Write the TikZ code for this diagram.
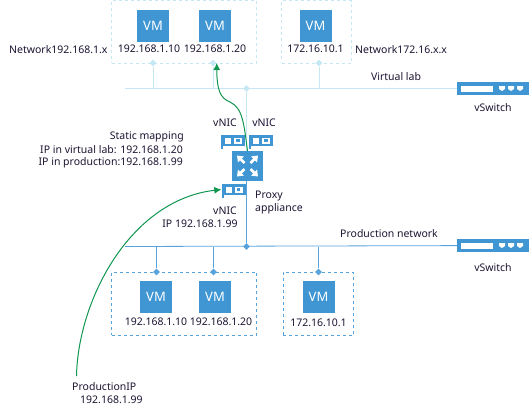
\documentclass[tikz,border=0pt]{standalone}
\usepackage{fontspec}
\setmainfont{Noto Sans}
\definecolor{vmblue}{RGB}{64,150,211}
\definecolor{netblue}{RGB}{88,163,220}
\definecolor{labblue}{RGB}{198,232,245}
\definecolor{mapgreen}{RGB}{16,150,80}
\definecolor{labeltext}{RGB}{30,20,50}
\usetikzlibrary{arrows.meta,positioning,shapes.geometric,calc}

\tikzset{
  vmbox/.style={fill=vmblue, minimum size=32pt, inner sep=0pt, text=white, font=\fontsize{13}{13}\selectfont\bfseries},
  iplabel/.style={font=\fontsize{10.5}{12}\selectfont, text=labeltext, inner sep=0pt},
  labgroup/.style={draw=labblue, dashed, fill=none, inner sep=0pt},
  prodgroup/.style={draw=netblue, dashed, fill=none, inner sep=0pt},
  labtap/.style={diamond, fill=labblue, minimum size=7pt, inner sep=0pt},
  prodtap/.style={diamond, fill=netblue, minimum size=7pt, inner sep=0pt},
  switchbox/.style={fill=vmblue, minimum width=72pt, minimum height=13pt, inner sep=0pt},
  nicbox/.style={fill=vmblue, minimum width=24pt, minimum height=11pt, inner sep=0pt},
  maparrow/.style={draw=mapgreen, line width=1pt, -{Latex[length=7pt,width=7pt]}}
}

% white parts of a vSwitch: port bar and three ports
\newcommand{\switchports}[1]{
  \fill[white] ($(#1)+(-32,-3)$) rectangle ($(#1)+(0,3)$);
  \foreach \px in {9,18,27} {
    \fill[white] ($(#1)+(\px-3,-2.5)$) -- ($(#1)+(\px+3,-2.5)$) -- ($(#1)+(\px+3,0.5)$) -- ($(#1)+(\px,2.5)$) -- ($(#1)+(\px-3,0.5)$) -- cycle;
  }
}
% white parts of a vNIC: two ports, and the bracket below the card
\newcommand{\nicports}[1]{
  \fill[vmblue] ($(#1)+(-12,5)$) rectangle ($(#1)+(-10,8)$);
  \fill[white] ($(#1)+(-8,-3)$) rectangle ($(#1)+(-2,3)$);
  \fill[white] ($(#1)+(1,-3)$) rectangle ($(#1)+(9,3)$);
  \fill[vmblue] ($(#1)+(3.4,-1.2)$) rectangle ($(#1)+(6.6,1.2)$);
}

\begin{document}
\begin{tikzpicture}[x=1pt,y=-1pt]
    \useasboundingbox (0,0) rectangle (529,413);

    % Virtual lab side: groups
    \node[labgroup, minimum width=145pt, minimum height=62.5pt] (labgrpa) at (184,31.75) {};
    \node[labgroup, minimum width=70pt, minimum height=62.5pt] (labgrpb) at (316.5,31.75) {};

    % Bus lines and switches
    \node[switchbox] (swlab) at (493,88.5) {};
    \node[switchbox] (swprod) at (493,245.5) {};
    \switchports{swlab}
    \switchports{swprod}
    \coordinate (labbus) at (125,88.5);
    \coordinate (prodbus) at (125,246.5);
    \draw[labblue, thick] (labbus) -- (swlab);
    \draw[netblue, thick] (prodbus) -- (swprod);

    % Virtual lab VMs
    \node[vmbox] (vmlaba) at (153,26) {VM};
    \node[vmbox] (vmlabb) at (215,26) {VM};
    \node[vmbox] (vmlabc) at (315.5,26) {VM};
    \node[iplabel] (iplaba) at (149,49) {192.168.1.10};
    \node[iplabel] (iplabb) at (215,49) {192.168.1.20};
    \node[iplabel] (iplabc) at (315.5,49) {172.16.10.1};

    % Virtual lab taps
    \node[labtap] (tapa) at (153,63) {};
    \node[labtap] (tapb) at (213,63) {};
    \node[labtap] (tapc) at (319,63) {};
    \node[labtap] (tapm) at (246.5,88.5) {};
    \draw[labblue, thick] (tapa) -- (tapa |- labbus);
    \draw[labblue, thick] (tapb) -- (tapb |- labbus);
    \draw[labblue, thick] (tapc) -- (tapc |- labbus);

    % Proxy appliance
    \node[fill=vmblue, minimum width=31pt, minimum height=30pt, inner sep=0pt] (proxy) at (247.5,166) {};
    \draw[labblue, thick] (tapm) -- (tapm |- proxy.north);
    \node[prodtap] (tapn) at (246.5,246.5) {};
    \draw[netblue, thick] (tapn |- proxy.south) -- (tapn);
    \foreach \sx/\sy in {-1/-1,1/-1,-1/1,1/1} {
      \draw[white, line width=2.6pt, -{Triangle[length=5.5pt,width=8pt]}] ($(proxy)+(\sx*3,\sy*3)$) -- ($(proxy)+(\sx*10.5,\sy*10.5)$);
    }

    % vNIC cards
    \node[nicbox] (nicl) at (233,140.5) {};
    \node[nicbox] (nicr) at (261,140.5) {};
    \node[nicbox] (nicp) at (233.5,189.5) {};
    \nicports{nicl}
    \nicports{nicr}
    \nicports{nicp}
    \node[iplabel] (niclt) at (225,123) {vNIC};
    \node[iplabel] (nicrt) at (264,123) {vNIC};
    \node[iplabel] (nicpt) at (225,211) {vNIC};
    \node[iplabel] (nicip) at (200,224) {IP 192.168.1.99};

    % Labels around the proxy
    \node[iplabel, anchor=east] (mapt) at (184,137) {Static mapping};
    \node[iplabel, anchor=east] (mapa) at (183,150) {IP in virtual lab: 192.168.1.20};
    \node[iplabel, anchor=east] (mapb) at (183,163) {IP in production:192.168.1.99};
    \node[iplabel, anchor=west] (proxya) at (255,196) {Proxy};
    \node[iplabel, anchor=west] (proxyb) at (255,209) {appliance};

    % Network names
    \node[iplabel, anchor=west] (neta) at (9,50) {Network192.168.1.x};
    \node[iplabel, anchor=west] (netb) at (355,50) {Network172.16.x.x};
    \node[iplabel] (labname) at (396,77) {Virtual lab};
    \node[iplabel] (swlabt) at (493,108) {vSwitch};
    \node[iplabel] (prodname) at (389,234) {Production network};
    \node[iplabel] (swprodt) at (493,268) {vSwitch};

    % Production side
    \node[prodgroup, minimum width=145pt, minimum height=63pt] (prodgrpa) at (184,303.5) {};
    \node[prodgroup, minimum width=70.5pt, minimum height=63pt] (prodgrpb) at (318.25,303.5) {};
    \node[vmbox] (vmproda) at (156,297) {VM};
    \node[vmbox] (vmprodb) at (215,297) {VM};
    \node[vmbox] (vmprodc) at (318.5,297) {VM};
    \node[iplabel] (ipproda) at (156,322) {192.168.1.10};
    \node[iplabel] (ipprodb) at (221,322) {192.168.1.20};
    \node[iplabel] (ipprodc) at (318.5,323) {172.16.10.1};
    \node[prodtap] (tapd) at (156.5,272) {};
    \node[prodtap] (tape) at (213.5,272) {};
    \node[prodtap] (tapf) at (318.5,272) {};
    \draw[netblue, thick] (tapd) -- (tapd |- prodbus);
    \draw[netblue, thick] (tape) -- (tape |- prodbus);
    \draw[netblue, thick] (tapf) -- (tapf |- prodbus);

    % Mapping arrows
    \node[iplabel, anchor=west] (prodip) at (72,387) {ProductionIP};
    \node[iplabel, anchor=west] (prodaddr) at (80,400) {192.168.1.99};
    \coordinate (prodstart) at (76.5,376);
    \draw[maparrow] (prodstart) .. controls (78,300) and (130,200) .. (nicp.west);
    \draw[maparrow] (proxy.north) .. controls (244,125) and (243,108) .. (230,102)
      .. controls (220,98) and (217,90) .. (tapb.east);
\end{tikzpicture}
\end{document}
